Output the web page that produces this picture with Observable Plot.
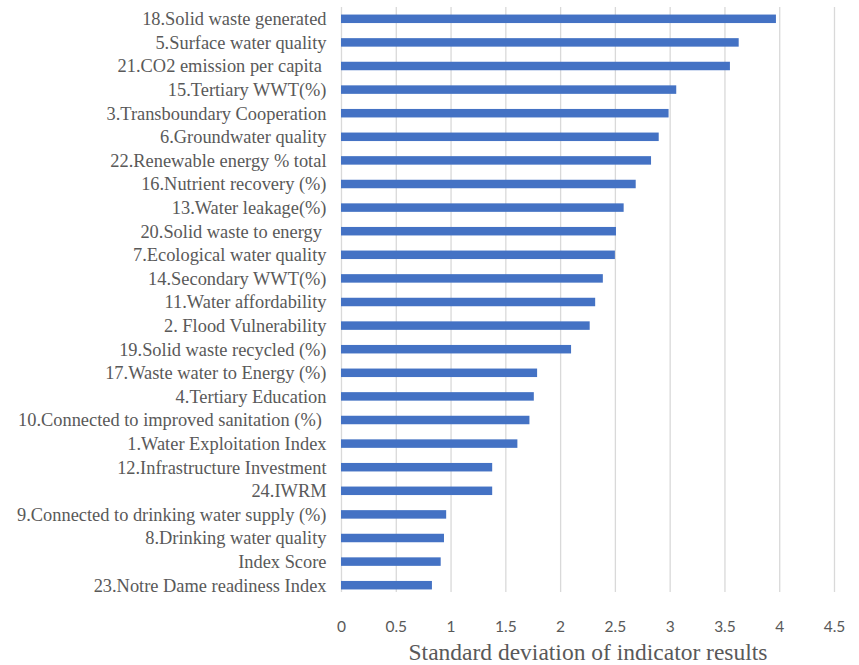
<!DOCTYPE html>
<html>
<head>
<meta charset="utf-8">
<script src="https://cdn.jsdelivr.net/npm/d3@7"></script>
<script src="https://cdn.jsdelivr.net/npm/@observablehq/plot@0.6"></script>
<style>
  html, body { margin: 0; padding: 0; background: #fff; }
  #chart svg { display: block; }
</style>
</head>
<body>
<div id="chart"></div>
<script>
const categories = [
  "18.Solid waste generated",
  "5.Surface water quality",
  "21.CO2 emission per capita\u00a0",
  "15.Tertiary WWT(%)",
  "3.Transboundary Cooperation",
  "6.Groundwater quality",
  "22.Renewable energy % total",
  "16.Nutrient recovery (%)",
  "13.Water leakage(%)",
  "20.Solid waste to energy\u00a0",
  "7.Ecological water quality",
  "14.Secondary WWT(%)",
  "11.Water affordability",
  "2. Flood Vulnerability",
  "19.Solid waste recycled (%)",
  "17.Waste water to Energy (%)",
  "4.Tertiary Education",
  "10.Connected to improved sanitation (%)\u00a0",
  "1.Water Exploitation Index",
  "12.Infrastructure Investment",
  "24.IWRM",
  "9.Connected to drinking water supply (%)",
  "8.Drinking water quality",
  "Index Score",
  "23.Notre Dame readiness Index"
];
const values = [
  3.97, 3.63, 3.55, 3.06, 2.99, 2.90, 2.83, 2.69, 2.58, 2.51,
  2.50, 2.39, 2.32, 2.27, 2.10, 1.79, 1.76, 1.72, 1.61, 1.38,
  1.38, 0.96, 0.94, 0.91, 0.83
];
const xTicks = [0, 0.5, 1, 1.5, 2, 2.5, 3, 3.5, 4, 4.5];
const xLabel = "Standard deviation of indicator results";

const data = categories.map((c, i) => ({category: c, value: values[i]}));

const chart = Plot.plot({
  width: 859,
  height: 665,
  marginLeft: 341,
  marginRight: 25,
  marginTop: 7,
  marginBottom: 68,
  x: {domain: [0, 4.5], ticks: xTicks},
  y: {domain: categories, paddingInner: 0.64, paddingOuter: 0.32, round: false},
  style: {background: "#fff"},
  marks: [
    Plot.ruleX(xTicks, {stroke: "#d9d9d9", strokeWidth: 1.3, insetBottom: 5}),
    Plot.barX(data, {x: "value", y: "category", fill: "#4472C4"}),
    Plot.axisY({
      tickSize: 0,
      tickPadding: 15,
      fontSize: 18.4,
      fontFamily: "'Liberation Serif', 'Times New Roman', serif",
      fill: "#595959",
      label: null
    }),
    Plot.axisX(xTicks, {
      tickSize: 0,
      tickPadding: 23,
      fontSize: 15.5,
      fontFamily: "Lato, 'Open Sans', sans-serif",
      fill: "#595959",
      tickFormat: d => String(d),
      label: null
    }),
    Plot.text([xLabel], {
      frameAnchor: "bottom",
      dy: 62,
      fontSize: 23.5,
      fontFamily: "'Liberation Serif', 'Times New Roman', serif",
      fill: "#595959"
    })
  ]
});
document.getElementById("chart").appendChild(chart);
</script>
</body>
</html>
